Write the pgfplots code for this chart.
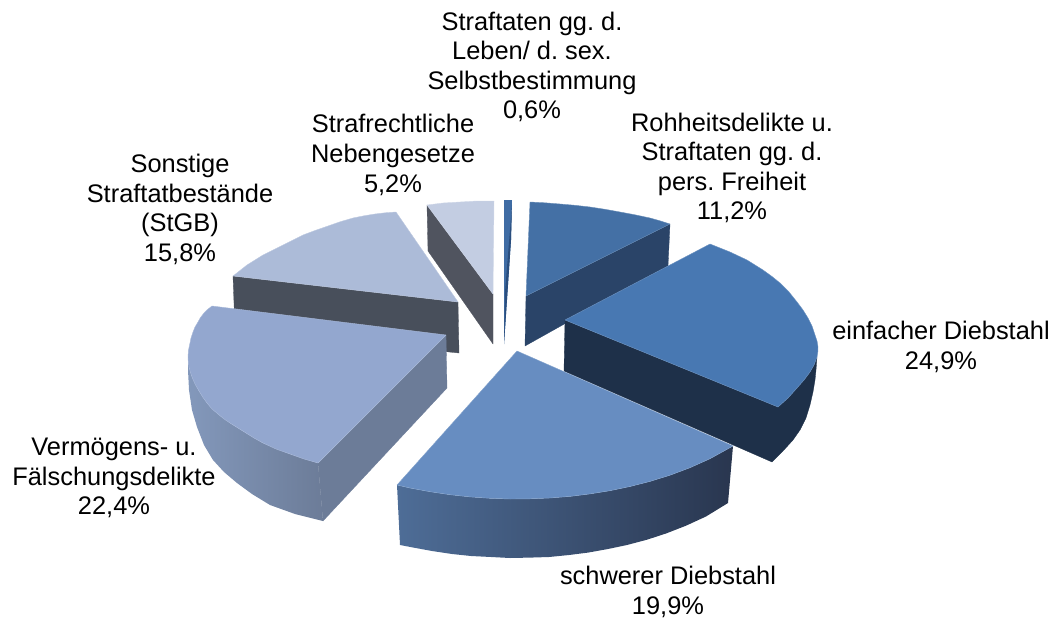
\documentclass[border=0pt]{standalone}
\usepackage{fontspec}
\setmainfont{Liberation Sans}
\usepackage{pgfplots}
\pgfplotsset{compat=1.18}
\definecolor{rohT}{HTML}{4470A5}\definecolor{rohS}{HTML}{2A4468}
\definecolor{einT}{HTML}{4878B2}\definecolor{einS}{HTML}{1E3049}
\definecolor{schT}{HTML}{678DC1}\definecolor{schL}{HTML}{4E6D97}\definecolor{schR}{HTML}{29364F}
\definecolor{verT}{HTML}{93A7CF}\definecolor{verS}{HTML}{6C7C98}\definecolor{verL}{HTML}{8398BB}
\definecolor{sonT}{HTML}{ACBBD8}\definecolor{sonS}{HTML}{484F5B}
\definecolor{strT}{HTML}{C3CDE2}\definecolor{strS}{HTML}{50545F}
\definecolor{thinT}{HTML}{3F6CA4}\definecolor{thinS}{HTML}{2A4E7E}
\tikzset{lab/.style={align=center,inner sep=0pt,font=\fontsize{25.4}{29.6}\selectfont\frenchspacing,text=black}}
\begin{document}
\begin{tikzpicture}
\begin{axis}[hide axis,scale only axis,width=1055pt,height=617pt,xmin=0,xmax=1055,ymin=0,ymax=617,y dir=reverse,clip=false,
 every axis plot/.append style={line join=round}]
\addplot[draw=none,forget plot] coordinates {(0,0)(1055,617)};
% Sonstige
\addplot[fill=sonS,draw=sonS,line width=.3pt] coordinates {(233,276)(458,302)(459,353)(235,330)} -- cycle;
\addplot[fill=sonT,draw=sonT!80!white,line width=.4pt] coordinates {(396,212)(385,212.8)(375,214)(364,215.8)(353,218)(340,221.8)(328,226)(315,230.5)(303,235)(293,240)(283,245)(273,250)(263,255)(255,260)(247,265)(240,270.5)(233,276)(458,302)} -- cycle;
% Strafrechtliche
\addplot[fill=strS,draw=strS,line width=.3pt] coordinates {(427,205)(493,294)(493,344)(428,251)} -- cycle;
\addplot[fill=strT,draw=strT!80!white,line width=.4pt] coordinates {(427,205)(443,203)(460,202)(477,201)(494,201)(493,294)} -- cycle;
% thin
\addplot[fill=thinT,draw=none] coordinates {(504,200)(512,200)(511,240)(504,344)} -- cycle;
\addplot[fill=thinS,draw=none] coordinates {(505,292)(512,205)(511,240)(504,344)} -- cycle;
% Rohheit
\addplot[fill=rohS,draw=rohS,line width=.3pt] coordinates {(526,296)(670,224)(668,266)(525,346)} -- cycle;
\addplot[fill=rohT,draw=rohT!80!white,line width=.4pt] coordinates {(530,202)(545,202.8)(560,204)(575,205.3)(590,207)(605,209.3)(620,212)(635,214.8)(650,218)(660,220.8)(670,224)(526,296)} -- cycle;
% Einfacher
\addplot[fill=einS,draw=einS,line width=.3pt] coordinates {(565,320)(778,407)(788,398)(797,388)(804,380)(810,372)(814,365)(817,357)(816,370)(815,380)(813,392)(810,405)(806,418)(800,430)(793,440)(783,451)(772,462)(564,371)} -- cycle;
\addplot[fill=einT,draw=einT!80!white,line width=.4pt] coordinates {(710,244)(720,248)(730,252)(738.5,256)(747,260)(755,265)(763,270)(772,276.5)(780,283)(789,292)(797,302)(803,310)(808,318)(812,326)(815,335)(817,341)(818,347)(817.8,352)(817,357)(814,365)(810,372)(804,380)(797,388)(788,398)(778,407)(565,320)} -- cycle;
% Schwerer
\addplot[left color=schL,right color=schR,draw=none] coordinates {(397,485)(410,488)(430,491.7)(450,494.7)(470,496.9)(490,498.3)(510,499)(530,498.8)(550,498)(570,496.4)(590,493.9)(610,490.7)(630,486.5)(650,481.4)(670,475.2)(690,467.7)(710,458.7)(733,446)(728,503)(706,516.5)(686,525.7)(666,533.5)(647,539.7)(627,545)(608,549)(588,552.6)(569,555)(549,557)(530,557.6)(510,558)(491,557)(471,556)(452,554)(432,551)(413,547.5)(400,545)} -- cycle;
\addplot[fill=schT,draw=schT!80!white,line width=.4pt] coordinates {(517,351)(733,446)(710,458.7)(690,467.7)(670,475.2)(650,481.4)(630,486.5)(610,490.7)(590,493.9)(570,496.4)(550,498)(530,498.8)(510,499)(490,498.3)(470,496.9)(450,494.7)(430,491.7)(410,488)(397,485)} -- cycle;
% Vermoegens
\addplot[fill=verS,draw=verS,line width=.3pt] coordinates {(446,335)(318,463)(323,521)(447,388)} -- cycle;
\addplot[left color=verL,right color=verS,draw=none] coordinates {(188,350)(188,357)(189,367)(192,377)(199,391)(207,403)(218,414)(230,423)(246,433)(263,443)(290,454)(318,463)(323,521)(295,514)(270,505)(252,494)(237,483)(224,472)(213,460)(204,445)(197,427)(192,410)(189,390)(188,370)} -- cycle;
\addplot[fill=verT,draw=verT!80!white,line width=.4pt] coordinates {(446,335)(212,306)(207.5,309.5)(204,313)(200.5,317.5)(198,322)(195,327)(193,332)(191,338)(190,343)(188.5,350)(188,357)(188.3,362)(189,367)(190.3,372)(192,377)(195,384)(199,391)(203,397.5)(207,403)(212,409)(218,414)(224,419)(230,423)(238,428)(246,433)(254,438)(263,443)(276,449)(290,454)(304,459)(318,463)} -- cycle;
% labels
\node[lab] at (axis cs:532,67) {Straftaten gg. d.\\Leben/ d. sex.\\Selbstbestimmung\\0,6\%};
\node[lab] at (axis cs:732,168) {Rohheitsdelikte u.\\Straftaten gg. d.\\pers. Freiheit\\11,2\%};
\node[lab] at (axis cs:941,347) {einfacher Diebstahl\\24,9\%};
\node[lab] at (axis cs:668,592) {schwerer Diebstahl\\19,9\%};
\node[lab] at (axis cs:114,478) {Vermögens- u.\\Fälschungsdelikte\\22,4\%};
\node[lab] at (axis cs:180,209.5) {Sonstige\\Straftatbestände\\(StGB)\\15,8\%};
\node[lab] at (axis cs:393,155) {Strafrechtliche\\Nebengesetze\\5,2\%};
\end{axis}
\end{tikzpicture}
\end{document}
